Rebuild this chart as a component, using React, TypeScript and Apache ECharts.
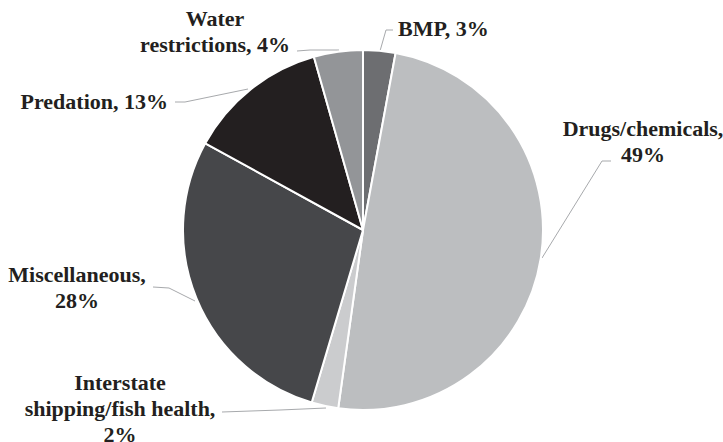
import React, { useEffect, useRef } from "react";
import * as echarts from "echarts";

const categories = [
  "BMP",
  "Drugs/chemicals",
  "Interstate shipping/fish health",
  "Miscellaneous",
  "Predation",
  "Water restrictions",
];
const values = [2.9, 49.3, 2.4, 28.4, 12.6, 4.4];
const labelTexts = [
  "BMP, 3%",
  "Drugs/chemicals,\n49%",
  "Interstate\nshipping/fish health,\n2%",
  "Miscellaneous,\n28%",
  "Predation, 13%",
  "Water\nrestrictions, 4%",
];
const colors = ["#6d6e71", "#bcbec0", "#cbccce", "#46474a", "#231f20", "#939598"];

// label placement (pixels) and leader line points
const labelPlacement = [
  { x: 398, y: 28, align: "left", line: [[380, 51], [386, 30], [393, 30]] },
  { x: 643, y: 141, align: "center", line: [[542, 258], [602, 161], [611, 161]] },
  { x: 120, y: 408, align: "center", line: [[326, 408], [280, 410], [222, 412]] },
  { x: 77, y: 287, align: "center", line: [[195, 301], [169, 288], [153, 287]] },
  { x: 168, y: 101, align: "right", line: [[248, 89], [185, 102], [175, 102]] },
  { x: 215, y: 31, align: "center", line: [[339, 50], [310, 50], [297, 51]] },
];

export default function App() {
  const ref = useRef<HTMLDivElement>(null);
  useEffect(() => {
    if (!ref.current) return;
    const chart = echarts.init(ref.current, undefined, { renderer: "svg" });
    chart.setOption({
      animation: false,
      backgroundColor: "#ffffff",
      series: [
        {
          type: "pie",
          center: [363, 230],
          radius: 180,
          startAngle: 90,
          clockwise: true,
          avoidLabelOverlap: false,
          itemStyle: { borderColor: "#ffffff", borderWidth: 2 },
          label: {
            show: true,
            color: "#231f20",
            fontFamily: "Liberation Serif",
            fontWeight: "bold",
            fontSize: 22,
            lineHeight: 26,
            formatter: (p: any) => labelTexts[p.dataIndex],
          },
          labelLine: {
            show: true,
            lineStyle: { color: "#a7a9ac", width: 1 },
          },
          labelLayout: (p: any) => {
            const c = labelPlacement[p.dataIndex];
            return {
              x: c.x,
              y: c.y,
              align: c.align,
              verticalAlign: "middle",
              labelLinePoints: c.line,
            };
          },
          data: categories.map((name, i) => ({
            name,
            value: values[i],
            itemStyle: { color: colors[i] },
          })),
        },
      ],
    });
    return () => chart.dispose();
  }, []);
  return (
    <div
      ref={ref}
      style={{ position: "fixed", left: 0, top: 0, width: 723, height: 442 }}
    />
  );
}
